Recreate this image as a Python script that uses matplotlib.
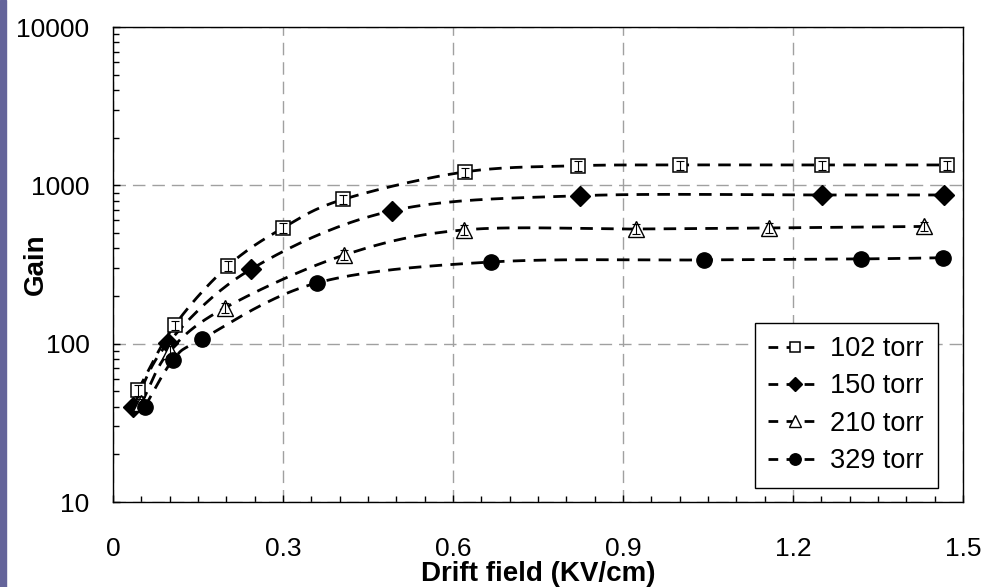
import matplotlib
matplotlib.use("Agg")
import matplotlib.pyplot as plt
import numpy as np
from matplotlib.patches import Rectangle
from matplotlib.ticker import FixedLocator, MultipleLocator

# data
x_102 = [0.044, 0.109, 0.203, 0.30, 0.406, 0.621, 0.82, 1.0, 1.251, 1.472]
g_102 = [51, 131, 310, 538, 815, 1216, 1330, 1345, 1345, 1345]
e_102 = [4, 9, 22, 38, 55, 80, 90, 90, 90, 90]

x_150 = [0.035, 0.097, 0.244, 0.492, 0.824, 1.251, 1.466]
g_150 = [40, 101, 296, 690, 860, 869, 869]

x_210 = [0.05, 0.10, 0.197, 0.408, 0.619, 0.923, 1.157, 1.431]
g_210 = [42, 90, 168, 363, 523, 530, 538, 550]
e_210 = [3, 6, 12, 25, 36, 37, 37, 38]

x_329 = [0.056, 0.106, 0.157, 0.36, 0.667, 1.043, 1.32, 1.465]
g_329 = [40, 79, 107, 242, 328, 338, 343, 349]
e_329 = [3, 6, 10, 0, 0, 0, 0, 0]

xticks = [0, 0.3, 0.6, 0.9, 1.2, 1.5]
xtick_labels = ["0", "0.3", "0.6", "0.9", "1.2", "1.5"]
yticks = [10, 100, 1000, 10000]
ytick_labels = ["10", "100", "1000", "10000"]


def smooth(x, y, n=24):
    # Excel-like smoothed line (Catmull-Rom in screen space, log y)
    x = np.asarray(x, float)
    ly = np.log10(np.asarray(y, float))
    px = np.concatenate([[2 * x[0] - x[1]], x, [2 * x[-1] - x[-2]]])
    py = np.concatenate([[2 * ly[0] - ly[1]], ly, [2 * ly[-1] - ly[-2]]])
    xs, ys = [], []
    t = np.linspace(0, 1, n)
    for i in range(1, len(px) - 2):
        for p, out in ((px, xs), (py, ys)):
            p0, p1, p2, p3 = p[i - 1], p[i], p[i + 1], p[i + 2]
            out.extend(0.5 * ((2 * p1) + (-p0 + p2) * t
                              + (2 * p0 - 5 * p1 + 4 * p2 - p3) * t ** 2
                              + (-p0 + 3 * p1 - 3 * p2 + p3) * t ** 3))
    return np.array(xs), 10 ** np.array(ys)


plt.rcParams['font.family'] = ['Liberation Sans', 'DejaVu Sans']

fig = plt.figure(figsize=(9.87, 5.87), dpi=100)
fig.patches.append(Rectangle((0, 0), 6 / 987, 1, transform=fig.transFigure,
                             color="#64649a", zorder=0))
ax = fig.add_axes([0.1145, 0.1448, 0.8612, 0.8092])

dash = (0, (4.5, 3))
series = [
    (x_102, g_102, e_102, dict(marker="s", ms=9.5, mfc="white", mec="black", mew=1.1), "102 torr"),
    (x_150, g_150, None, dict(marker="D", ms=10, mfc="black", mec="black"), "150 torr"),
    (x_210, g_210, e_210, dict(marker="^", ms=11, mfc="white", mec="black", mew=1.0), "210 torr"),
    (x_329, g_329, e_329, dict(marker="o", ms=11, mfc="black", mec="black"), "329 torr"),
]

handles = []
for xs, ys, es, mk, lab in series:
    sx, sy = smooth(xs, ys)
    ax.plot(sx, sy, color="black", lw=2.0, linestyle=dash, zorder=3)
    ax.plot(xs, ys, linestyle="none", zorder=4, **mk)
    if es is not None:
        ax.errorbar(xs, ys, yerr=es, fmt="none", ecolor="black", elinewidth=0.8,
                    capsize=3, capthick=0.8, zorder=5)
    h, = ax.plot([], [], color="black", lw=2.0, linestyle=(0, (3.5, 3)), **mk)
    handles.append((h, lab))

ax.set_yscale("log")
ax.set_xlim(0, 1.5)
ax.set_ylim(10, 10000)
ax.set_xticks(xticks)
ax.set_xticklabels(xtick_labels)
ax.xaxis.set_minor_locator(MultipleLocator(0.05))
ax.yaxis.set_major_locator(FixedLocator(yticks))
ax.set_yticklabels(ytick_labels)

ax.grid(True, which="major", color="#a0a0a0", linestyle=(0, (9, 5)), lw=1.0, zorder=0)
ax.tick_params(axis="both", which="both", direction="in", top=False, right=False,
               labelsize=19, colors="black")
ax.tick_params(axis="both", which="major", length=5, width=1)
ax.tick_params(axis="both", which="minor", length=4, width=1)
ax.tick_params(axis="x", which="major", pad=25)
ax.tick_params(axis="y", which="major", pad=17)
for sp in ax.spines.values():
    sp.set_color("black")
    sp.set_linewidth(1.0)

ax.set_xlabel("Drift field (KV/cm)", fontsize=20, fontweight="bold", labelpad=0)
ax.set_ylabel("Gain", fontsize=20, fontweight="bold")
ax.yaxis.set_label_coords(-0.076, 0.5)

leg = ax.legend([h for h, _ in handles], [l for _, l in handles],
                loc="lower right", bbox_to_anchor=(0.97, 0.03),
                fontsize=19.5, frameon=True, fancybox=False, framealpha=1,
                edgecolor="black", handlelength=2.0, handletextpad=0.3,
                labelspacing=0.42, borderpad=0.5, borderaxespad=0,
                markerscale=0.75)
leg.get_frame().set_linewidth(1.0)

plt.savefig("out.png", dpi=100)
